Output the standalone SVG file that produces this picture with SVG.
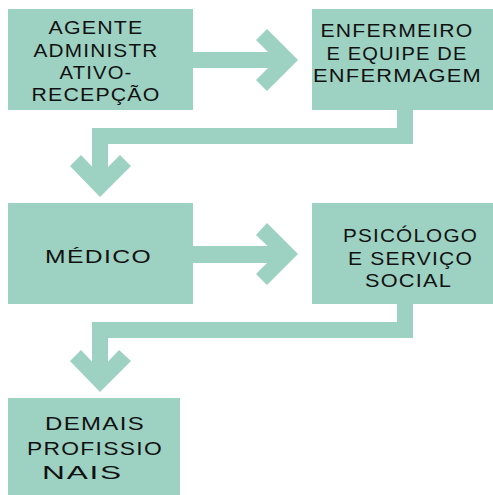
<svg xmlns="http://www.w3.org/2000/svg" width="493" height="495" viewBox="0 0 493 495">
<style>
.box{fill:#9dd2c2}
.con{fill:#9dd2c2}
text{font-family:"Liberation Sans",Arial,sans-serif;font-size:17.5px;fill:#111;text-anchor:middle;letter-spacing:1px}
</style>
<rect width="493" height="495" fill="#fff"/>
<g id="connectors" class="con">
  <rect x="192" y="52" width="84" height="16"/>
  <polygon points="256,40 267,29 298,60 267,91 256,80 276,60"/>
  <polygon points="397,109 413,109 413,144 108,144 108,176 92,176 92,128 397,128"/>
  <polygon points="81,155 70,166 100,197 131,166 120,155 100,175"/>
  <rect x="192" y="246" width="84" height="17"/>
  <polygon points="256,235 267,223 298,254 267,285 256,274 276,254"/>
  <polygon points="397,303 413,303 413,338 108,338 108,371 92,371 92,322 397,322"/>
  <polygon points="81,350 70,361 100,392 131,361 119,350 100,370"/>
</g>
<g id="n1"><rect class="box" x="8" y="9" width="185" height="101"/>
  <text x="96" y="34" textLength="95" lengthAdjust="spacingAndGlyphs">AGENTE</text>
  <text x="96" y="57" textLength="125" lengthAdjust="spacingAndGlyphs">ADMINISTR</text>
  <text x="96" y="79" textLength="73" lengthAdjust="spacingAndGlyphs">ATIVO-</text>
  <text x="96" y="101" textLength="129" lengthAdjust="spacingAndGlyphs">RECEPÇÃO</text>
</g>
<g id="n2"><rect class="box" x="312" y="9" width="181" height="101"/>
  <text x="397" y="37" textLength="153" lengthAdjust="spacingAndGlyphs">ENFERMEIRO</text>
  <text x="397" y="60" textLength="141" lengthAdjust="spacingAndGlyphs">E EQUIPE DE</text>
  <text x="397.5" y="82" textLength="169" lengthAdjust="spacingAndGlyphs">ENFERMAGEM</text>
</g>
<g id="n3"><rect class="box" x="8" y="203" width="185" height="101"/>
  <text x="98.5" y="263" textLength="107" lengthAdjust="spacingAndGlyphs">MÉDICO</text>
</g>
<g id="n4"><rect class="box" x="312" y="203" width="181" height="101"/>
  <text x="410.5" y="242" textLength="135" lengthAdjust="spacingAndGlyphs">PSICÓLOGO</text>
  <text x="410.5" y="265" textLength="125" lengthAdjust="spacingAndGlyphs">E SERVIÇO</text>
  <text x="408.5" y="287" textLength="87" lengthAdjust="spacingAndGlyphs">SOCIAL</text>
</g>
<g id="n5"><rect class="box" x="8" y="398" width="172" height="97"/>
  <text x="95" y="430" textLength="100" lengthAdjust="spacingAndGlyphs">DEMAIS</text>
  <text x="95" y="455" textLength="136" lengthAdjust="spacingAndGlyphs">PROFISSIO</text>
  <text x="82.5" y="479" textLength="81" lengthAdjust="spacingAndGlyphs">NAIS</text>
</g>
</svg>
